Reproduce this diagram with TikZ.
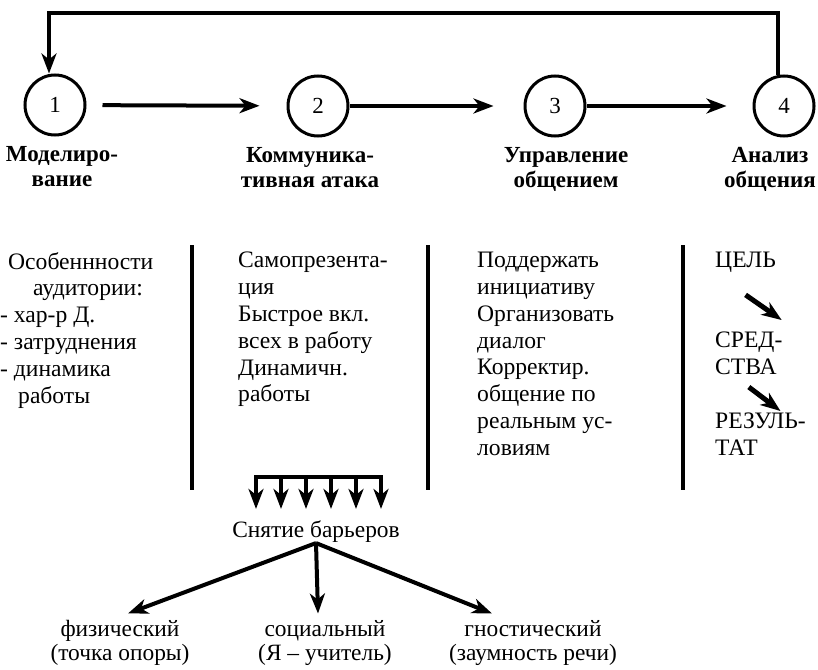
\documentclass[tikz,border=0pt]{standalone}
\usepackage{fontspec}
\setmainfont{Liberation Serif}
\usetikzlibrary{arrows.meta, positioning}

\begin{document}
\begin{tikzpicture}[x=1pt, y=-1pt,
  stage/.style={circle, draw, line width=3pt, minimum size=60pt, inner sep=0pt,
                font=\fontsize{23}{26}\selectfont},
  title/.style={align=center, inner sep=0pt, font=\fontsize{23}{25}\selectfont\bfseries},
  column/.style={align=left, inner sep=0pt, anchor=north west,
                 font=\fontsize{23.6}{26.8}\selectfont},
  kind/.style={align=center, inner sep=0pt, font=\fontsize{23.4}{23.5}\selectfont},
  bar/.style={line width=4.5pt},
  arrow/.style={-{Stealth[length=20pt, width=15pt, inset=6pt]}, line width=4pt}
]
\useasboundingbox (0,0) rectangle (818,669);

% row 1: the four stages and the way back
\node[stage] (s1) at (55,105) {1};
\node[stage] (s2) at (318,106) {2};
\node[stage] (s3) at (555,106) {3};
\node[stage] (s4) at (784,106) {4};
\node[title, below=10pt of s1, xshift=7pt] (t1) {Моделиро-\\вание};
\node[title, below=10pt of s2, xshift=-8pt] (t2) {Коммуника-\\тивная атака};
\node[title, below=10pt of s3, xshift=11pt] (t3) {Управление\\общением};
\node[title, below=10pt of s4, xshift=-14pt] (t4) {Анализ\\общения};
\coordinate (back) at (778,13);
\coordinate (home) at (49,13);

\draw[arrow, shorten <=16pt, shorten >=27pt] (s1) -- (s2);
\draw[arrow, shorten >=30pt] (s2) -- (s3);
\draw[arrow, shorten >=26pt] (s3) -- (s4);
\draw[arrow] (s4.north -| back) -- (back) -- (home) -- (s1.north -| home);

% row 2: what is done at each stage
\node[column] (aud) at (0,252) {\hspace*{8pt}Особеннности\\\hspace*{33pt}аудитории:\\- хар-р Д.\\- затруднения\\- динамика\\\hspace*{18pt}работы};
\node[column] (self) at (238,252) {Самопрезента-\\ция\\Быстрое вкл.\\всех в работу\\Динамичн.\\работы};
\node[column] (keep) at (477,252) {Поддержать\\инициативу\\Организовать\\диалог\\Корректир.\\общение по\\реальным ус-\\ловиям};
\node[column] (goal) at (715,252) {ЦЕЛЬ};
\node[column] (means) at (715,332) {СРЕД-\\СТВА};
\node[column] (result) at (715,413) {РЕЗУЛЬ-\\ТАТ};
\foreach \x in {192,428,683}
  \draw[bar] (\x,245) -- (\x,490);
\draw[arrow, line width=5pt] ([yshift=-22pt]goal.south) -- ([xshift=-1pt,yshift=12pt]means.north east);
\draw[arrow, line width=5pt] ([yshift=-12pt]means.south) -- ([xshift=20pt,yshift=2pt]result.north);

% row 3: barriers
\node[kind] (barr) at (316,532) {Снятие барьеров};
\draw[bar, line width=4pt] (254,477) -- (383,477);
\foreach \x in {256,281,...,381}
  \draw[arrow, shorten >=12pt] (\x,477) -- (\x,477 |- barr.north);
\node[kind] (phys) at (120,643) {физический\\(точка опоры)};
\node[kind] (soc) at (325,643) {социальный\\(Я – учитель)};
\node[kind] (gnos) at (533,643) {гностический\\(заумность речи)};
\draw[arrow] (barr.south) -- ([xshift=8pt,yshift=7pt]phys.north);
\draw[arrow] (barr.south) -- ([xshift=-7pt,yshift=7pt]soc.north);
\draw[arrow] (barr.south) -- ([xshift=-41pt,yshift=7pt]gnos.north);
\end{tikzpicture}
\end{document}
